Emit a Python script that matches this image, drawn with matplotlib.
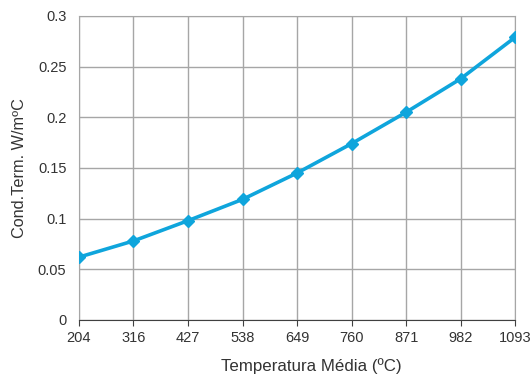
import numpy as np
from matplotlib import pyplot as plt

temps = ['204', '316', '427', '538', '649', '760', '871', '982', '1093']
cond = [0.062, 0.078, 0.098, 0.119, 0.145, 0.174, 0.205, 0.238, 0.279]

plt.rcParams['font.family'] = ['Liberation Sans', 'DejaVu Sans']

fig = plt.figure(figsize=(5.3, 3.8), dpi=100)
ax = fig.add_axes([0.149, 0.158, 0.823, 0.8])

x = np.arange(len(temps))
ax.plot(x, cond, color='#0fa5dc', lw=2.6, marker='D', ms=6, zorder=3)

ax.set_xlim(0, len(temps) - 1)
ax.set_ylim(0, 0.3)
ax.set_xticks(x)
ax.set_xticklabels(temps)
ax.set_yticks(np.arange(0, 0.31, 0.05))
ax.set_yticklabels(['0', '0.05', '0.1', '0.15', '0.2', '0.25', '0.3'])

ax.grid(True, color='#a6a6a6', lw=1)
for side in ['top', 'right', 'left']:
    ax.spines[side].set_color('#a6a6a6')
ax.spines['bottom'].set_color('#404040')
ax.tick_params(axis='x', direction='out', length=4, color='#404040', labelsize=10.5, labelcolor='#333333', pad=4)
ax.tick_params(axis='y', length=0, labelsize=10.5, labelcolor='#333333', pad=9)

ax.set_xlabel('Temperatura Média (ºC)', fontsize=12.2, color='#333333')
ax.xaxis.set_label_coords(0.532, -0.125)
ax.set_ylabel('Cond.Term. W/mºC', fontsize=11.7, color='#333333', labelpad=8)

fig.savefig('out.png')
